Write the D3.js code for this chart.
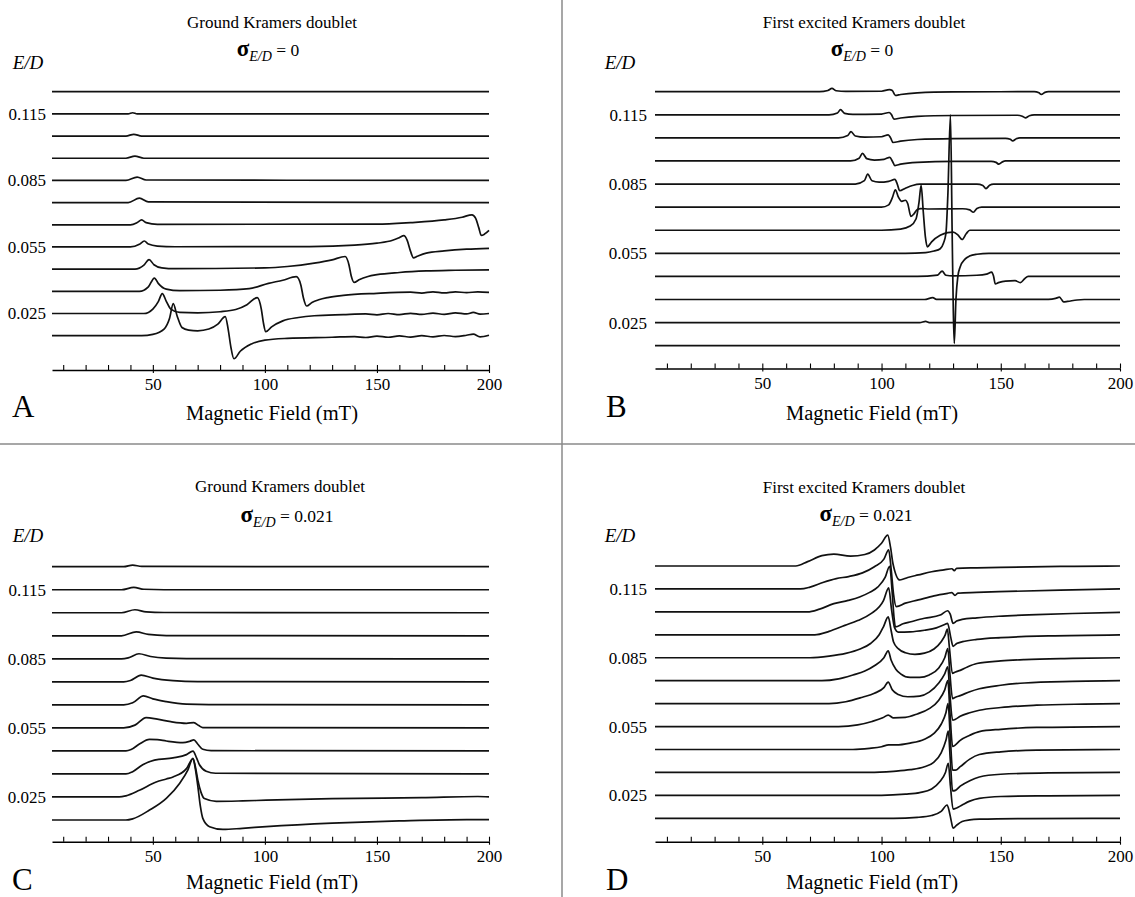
<!DOCTYPE html>
<html>
<head>
<meta charset="utf-8">
<script src="https://d3js.org/d3.v7.min.js"></script>
<style>
  body { margin: 0; background: #fff; }
  svg text { font-family: "Liberation Serif", "DejaVu Serif", serif; fill: #000; }
</style>
</head>
<body>
<script>

// E/D value of each trace, top to bottom
var edRows = [0.125, 0.115, 0.105, 0.095, 0.085, 0.075, 0.065, 0.055, 0.045, 0.035, 0.025, 0.015];
var edLabels = [0.115, 0.085, 0.055, 0.025];
var fieldLabels = [50, 100, 150, 200];
var fieldMinor = [10, 20, 30, 40, 50, 60, 70, 80, 90, 100, 110, 120, 130, 140, 150, 160, 170, 180, 190, 200];
var fieldDomain = [5, 200];

// traces: [field (mT), signal in units of 0.01 E/D], one list per E/D row

// A - ground doublet, sigma = 0
var groundSharp = [
  [[5,0],[200,0]],
  [[5,0],[39,0],[41,0.05],[43,0],[200,0]],
  [[5,0],[38,0],[41.5,0.08],[45,0],[200,0]],
  [[5,0],[38,0],[42,0.1],[46,0],[200,0]],
  [[5,0],[38,0],[43,0.15],[47,0.02],[200,0]],
  [[5,0],[39,0],[44,0.2],[48,0.03],[200,0]],
  [[5,0],[40,0],[43,0.1],[45,0.22],[47,0.1],[52,0.02],[150,0.03],[165,0.1],[180,0.22],[188,0.34],[192.4,0.45],[194,0.3],[195.5,-0.15],[196.5,-0.48],[198,-0.42],[200,-0.25]],
  [[5,0],[40,0],[44,0.12],[46.2,0.27],[48,0.13],[52,0.04],[60,0.01],[120,0.02],[140,0.08],[150,0.17],[157,0.3],[160,0.42],[162,0.51],[163.5,0.3],[165,-0.2],[166.3,-0.49],[168,-0.42],[172,-0.28],[180,-0.18],[190,-0.1],[200,-0.06]],
  [[5,0],[42,0],[46,0.18],[48.3,0.43],[50.5,0.2],[54,0.06],[60,0.02],[100,0.06],[110,0.12],[122,0.27],[130,0.42],[135.8,0.57],[137.5,0.2],[138.5,-0.3],[139.8,-0.6],[142,-0.48],[146,-0.33],[150,-0.25],[160,-0.15],[172,-0.08],[185,-0.05],[200,-0.03]],
  [[5,0],[44,0],[48,0.2],[50.7,0.6],[52.5,0.35],[56,0.1],[62,0.03],[80,0.05],[93,0.12],[101.6,0.36],[108,0.5],[114,0.66],[116,0.3],[117.2,-0.3],[118.6,-0.66],[121,-0.5],[124,-0.38],[128,-0.28],[135,-0.18],[150,-0.09],[165,-0.04],[170,-0.08],[175,-0.02],[180,-0.07],[185,-0.02],[190,-0.06],[195,-0.02],[200,-0.05]],
  [[5,0],[46,0],[50,0.2],[52.5,0.55],[54.2,0.9],[56,0.55],[58,0.2],[62,0.05],[70,0.03],[80,0.08],[87,0.18],[92,0.4],[96.6,0.72],[98.4,0.2],[99.3,-0.4],[100.4,-0.82],[103,-0.6],[108,-0.33],[115,-0.18],[122,-0.1],[135,-0.05],[145,-0.02],[150,-0.06],[155,0],[160,-0.05],[165,0.01],[170,-0.04],[175,0.02],[180,-0.04],[185,0.03],[190,-0.02],[193,0.05],[196,-0.03],[200,0]],
  [[5,0],[45,0],[50,0.06],[55,0.3],[57.5,0.8],[59.1,1.45],[60.8,0.9],[63,0.37],[66,0.25],[70,0.22],[75,0.3],[79,0.52],[82.3,0.86],[83.6,0.3],[84.8,-0.5],[86.2,-1.04],[89,-0.7],[94,-0.37],[100,-0.2],[110,-0.12],[130,-0.07],[140,-0.04],[145,-0.08],[150,-0.02],[155,-0.07],[160,-0.01],[165,-0.06],[170,0],[175,-0.05],[180,0.01],[185,-0.04],[190,0.02],[193,0.07],[196,-0.05],[200,0.02]]
];

// B - first excited doublet, sigma = 0
var excitedSharp = [
  [[5,0],[74,0],[77.5,0.05],[79.2,0.14],[81,0.04],[85,0.01],[100,0.02],[103.3,0.09],[104.5,0.05],[105.8,-0.16],[108,-0.12],[115,-0.05],[130,-0.01],[164,0],[166,-0.05],[167,-0.12],[168.5,-0.03],[170,0],[200,0]],
  [[5,0],[78,0],[81.5,0.08],[82.8,0.22],[84.5,0.06],[88,0.02],[100,0.03],[103.2,0.1],[104.2,0],[105.2,-0.19],[108,-0.14],[115,-0.07],[130,-0.03],[157,-0.02],[159,-0.06],[160.3,-0.13],[162,-0.04],[164,0],[200,0]],
  [[5,0],[82,0],[85.8,0.1],[87.2,0.27],[89,0.08],[93,0.03],[100,0.05],[102.8,0.13],[103.8,0],[104.8,-0.2],[108,-0.14],[115,-0.07],[130,-0.03],[152,-0.02],[154,-0.06],[155,-0.13],[156.5,-0.04],[158,0],[200,0]],
  [[5,0],[87,0],[90.6,0.12],[92,0.33],[93.8,0.1],[97,0.04],[101,0.07],[103.5,0.16],[104.5,0],[105.6,-0.2],[108,-0.14],[115,-0.06],[130,-0.02],[146,-0.02],[148,-0.06],[149.2,-0.14],[150.7,-0.04],[152,0],[200,0]],
  [[5,0],[89,0],[92.8,0.15],[94.2,0.43],[96,0.14],[99,0.08],[103,0.12],[105.6,0.2],[106.6,0],[107.6,-0.29],[110,-0.18],[113,-0.06],[116,0],[140,0],[142.5,-0.06],[143.8,-0.2],[145.3,-0.05],[147,0],[200,0]],
  [[5,0],[100,0],[103,0.1],[104.5,0.4],[105.8,0.75],[107,0.45],[108.5,0.25],[110,0.3],[111,0.15],[112.3,-0.4],[113.5,-0.3],[115,-0.1],[116.5,-0.06],[120,-0.08],[134,-0.07],[137,-0.12],[138.5,-0.22],[140,-0.06],[142,0],[200,0]],
  [[5,0],[100,0],[108,0.05],[112,0.18],[114.5,0.5],[115.7,1.2],[116.6,1.94],[117.5,0.8],[118.4,-0.3],[119.2,-0.72],[121,-0.5],[124.6,-0.22],[127.7,-0.1],[130,-0.08],[132,-0.2],[133.8,-0.4],[135.5,-0.15],[137,0],[200,0]],
  [[5,0],[110,0],[118.5,0.03],[122,0.1],[124.6,0.2],[126,0.45],[127,0.86],[127.8,2.5],[128.9,6.0],[129.6,1.0],[130.1,-2.5],[130.5,-3.9],[131.2,-2.0],[132,-1.0],[133,-0.58],[135,-0.25],[136.9,-0.12],[140,-0.04],[145,0],[200,0]],
  [[5,0],[115,0],[123.5,0.06],[125.4,0.23],[127,0.05],[130,0.02],[140,0.05],[144,0.1],[146.2,0.19],[147,0],[147.7,-0.32],[149,-0.27],[152,-0.2],[156,-0.18],[158.2,-0.27],[160,-0.1],[161.5,0],[200,0]],
  [[5,0],[118,0],[121.5,0.08],[123,0.01],[170,0.01],[173,0.05],[174.6,0.1],[175.5,0],[176.3,-0.1],[178,-0.08],[182,-0.02],[185,0],[200,0]],
  [[5,0],[116,0],[118.5,0.05],[120,0],[200,0]],
  [[5,0],[200,0]]
];

// C - ground doublet, sigma = 0.021
var groundBroad = [
  [[5,0],[37,0],[41,0.07],[45,0.01],[200,0]],
  [[5,0],[36,0],[41.5,0.1],[46,0.02],[55,0],[200,0]],
  [[5,0],[36,0],[42,0.13],[47,0.04],[55,0.01],[200,0]],
  [[5,0],[36,0],[42.6,0.17],[48,0.06],[56,0.01],[200,0]],
  [[5,0],[36,0],[39,0.04],[43.8,0.22],[49,0.1],[56,0.03],[65,0.01],[200,0]],
  [[5,0],[37,0],[40,0.06],[44.8,0.29],[50,0.16],[59,0.05],[70,0.01],[200,0]],
  [[5,0],[37,0],[41,0.09],[45.8,0.39],[50,0.26],[56,0.14],[65,0.03],[75,0.01],[200,0]],
  [[5,0],[37,0],[42,0.12],[47,0.45],[52,0.38],[58,0.27],[65,0.2],[68.3,0.23],[70.5,0.1],[72.3,0.01],[200,0]],
  [[5,0],[38,0],[40.3,0.06],[44,0.3],[48.5,0.5],[52,0.49],[56,0.43],[63.4,0.36],[66.5,0.42],[68.3,0.48],[70,0.3],[72.3,0.07],[76,0.01],[200,0]],
  [[5,0],[38,0],[41,0.1],[45.5,0.4],[50.7,0.6],[59,0.7],[65,0.84],[67.9,0.99],[69.5,0.7],[70.8,0.4],[73.8,0.12],[78,0.03],[200,0]],
  [[5,0],[35,0],[38,0.05],[44,0.29],[51.5,0.65],[56,0.78],[59,0.87],[65,1.23],[67.9,1.67],[69,1.3],[70.1,0.72],[71.5,0.2],[73,-0.07],[78.3,-0.19],[90,-0.17],[100.6,-0.14],[130,-0.07],[170,-0.03],[195,0.02],[200,0]],
  [[5,0],[38,0],[41,0.05],[48.5,0.43],[56,0.94],[62,1.6],[65.6,2.17],[67.9,2.68],[69,2.2],[70.1,1.45],[71.2,0.6],[72.3,0.07],[75.3,-0.29],[81.3,-0.41],[90,-0.36],[100.6,-0.29],[130,-0.14],[160,-0.04],[190,0.02],[200,0.02]]
];

// D - first excited doublet, sigma = 0.021
var excitedBroad = [
  [[5,0],[64,0],[69,0.19],[75,0.45],[80,0.52],[87,0.43],[93,0.5],[97,0.7],[100,0.99],[102.6,1.35],[103.8,0.8],[104.8,0.1],[107.7,-0.61],[111,-0.5],[115.4,-0.39],[121,-0.25],[126.2,-0.17],[129.5,-0.12],[130.5,-0.2],[131.5,-0.1],[140,-0.08],[150,-0.06],[175,-0.02],[200,0]],
  [[5,0],[66,0],[70,0.08],[75.4,0.28],[81,0.45],[86.2,0.54],[92,0.7],[97,0.97],[101,1.3],[103,1.7],[104,0.9],[105,-0.2],[106.2,-0.77],[110,-0.62],[115.4,-0.48],[122,-0.3],[127.7,-0.19],[129.5,-0.16],[130.8,-0.28],[132,-0.18],[140,-0.15],[149.2,-0.12],[175,-0.05],[200,0]],
  [[5,0],[69,0],[74,0.12],[80,0.36],[86,0.5],[90.8,0.65],[95,0.85],[98.5,1.09],[101.5,1.5],[103.4,1.99],[104.5,0.8],[105.2,-0.2],[105.8,-0.65],[109,-0.52],[112.3,-0.43],[118,-0.28],[124.6,-0.14],[127.7,0.05],[128.8,-0.1],[130,-0.5],[131.5,-0.4],[133.8,-0.33],[140,-0.26],[149.2,-0.19],[165,-0.12],[180,-0.07],[200,-0.02]],
  [[5,0],[72,0],[78,0.15],[84.6,0.41],[90,0.62],[95.4,0.91],[100.8,1.49],[103,2.05],[104.2,1.1],[105.5,0.3],[107,0.12],[112,0.13],[118,0.2],[123,0.3],[126.5,0.45],[127.7,0.5],[129,-0.1],[130,-0.5],[131.5,-0.38],[134,-0.3],[140,-0.2],[150,-0.12],[170,-0.05],[200,0]],
  [[5,0],[70,0],[78,0.07],[85,0.19],[91,0.38],[95.4,0.62],[99,1.0],[100.8,1.35],[102.8,1.78],[104,1.2],[105,0.7],[107,0.4],[110,0.22],[114,0.15],[118,0.2],[122,0.38],[125,0.7],[126.7,1.0],[127.6,1.25],[128.5,0.4],[129.7,-0.68],[131,-0.62],[133,-0.55],[136,-0.4],[140,-0.25],[150,-0.14],[160,-0.08],[180,-0.03],[200,0]],
  [[5,0],[75,0],[82,0.08],[88,0.25],[93,0.42],[97,0.65],[101,1.0],[102.8,1.3],[104,0.9],[106,0.5],[108,0.3],[112,0.14],[116,0.14],[120,0.25],[124,0.55],[126.5,1.0],[127.8,1.4],[128.6,0.4],[129.8,-0.78],[131,-0.72],[133,-0.65],[137,-0.48],[141,-0.35],[150,-0.2],[160,-0.1],[180,-0.03],[200,0]],
  [[5,0],[78,0],[85,0.08],[92,0.28],[97,0.45],[101,0.7],[102.8,0.94],[104.5,0.6],[107,0.4],[111,0.3],[116,0.33],[120,0.5],[124,0.9],[126.5,1.3],[127.8,1.6],[128.6,0.5],[129.8,-0.72],[131,-0.68],[133,-0.55],[137,-0.4],[141,-0.29],[150,-0.17],[165,-0.07],[185,-0.02],[200,0]],
  [[5,0],[82,0],[90,0.07],[96,0.22],[100.5,0.38],[102.8,0.5],[105,0.38],[110,0.4],[115,0.55],[120,0.78],[124,1.15],[126.5,1.6],[127.8,2.0],[128.7,0.6],[129.8,-0.87],[131,-0.8],[133,-0.6],[137,-0.38],[141,-0.22],[150,-0.12],[165,-0.04],[200,0]],
  [[5,0],[88,0],[95,0.05],[100,0.12],[103,0.2],[106,0.2],[112,0.28],[118,0.45],[122,0.7],[125,1.1],[127,1.6],[127.9,2.0],[128.8,0.6],[129.8,-0.9],[131,-0.9],[133,-0.75],[137,-0.42],[141,-0.22],[150,-0.1],[165,-0.03],[200,0]],
  [[5,0],[95,0],[105,0.05],[112,0.12],[118,0.25],[122,0.45],[125,0.85],[127,1.4],[128,1.8],[128.8,0.6],[129.8,-0.8],[131,-0.78],[133,-0.6],[137,-0.36],[141,-0.2],[150,-0.08],[170,-0.02],[200,0]],
  [[5,0],[100,0],[110,0.05],[116,0.12],[121,0.28],[124.5,0.6],[126.8,1.0],[128,1.4],[128.9,0.4],[130,-0.6],[131.5,-0.55],[133.8,-0.42],[137,-0.25],[141,-0.13],[150,-0.05],[170,-0.02],[200,0]],
  [[5,0],[105,0],[115,0.04],[121,0.12],[125,0.3],[127.5,0.58],[128.4,0.3],[129.2,-0.1],[130,-0.43],[131.5,-0.3],[133.8,-0.14],[137,-0.07],[141,-0.04],[160,-0.01],[200,0]]
];

var W = 1135, H = 897;
var serif = '"Liberation Serif", "DejaVu Serif", serif';

var panels = [
  { letter: "A", title: "Ground Kramers doublet", sigma: "0", traces: groundSharp,
    x0: 52, x1: 489, yTop: 91.7, yBot: 335.7, axisY: 370,
    titleX: 272, titleY: 28, sigmaX: 268, sigmaY: 56, edX: 28, edY: 69, labelX: 46,
    letterX: 12, letterY: 417, xlabX: 272, xlabY: 420 },
  { letter: "B", title: "First excited Kramers doublet", sigma: "0", traces: excitedSharp,
    x0: 655, x1: 1120, yTop: 91.7, yBot: 345.7, axisY: 368.5,
    titleX: 864, titleY: 28, sigmaX: 862, sigmaY: 56, edX: 620, edY: 69, labelX: 647,
    letterX: 606, letterY: 417, xlabX: 872, xlabY: 420 },
  { letter: "C", title: "Ground Kramers doublet", sigma: "0.021", traces: groundBroad,
    x0: 52, x1: 489, yTop: 566.7, yBot: 820, axisY: 841.7,
    titleX: 280, titleY: 492, sigmaX: 287, sigmaY: 522, edX: 28, edY: 542, labelX: 46,
    letterX: 12, letterY: 890, xlabX: 272, xlabY: 889 },
  { letter: "D", title: "First excited Kramers doublet", sigma: "0.021", traces: excitedBroad,
    x0: 655, x1: 1120, yTop: 566, yBot: 818.3, axisY: 841.7,
    titleX: 864, titleY: 493, sigmaX: 866, sigmaY: 521, edX: 620, edY: 542, labelX: 647,
    letterX: 606, letterY: 890, xlabX: 872, xlabY: 889 }
];

var svg = d3.select("body").append("svg")
  .attr("width", W).attr("height", H)
  .attr("font-family", serif);

svg.append("rect").attr("width", W).attr("height", H).attr("fill", "#fff");

// panel dividers
svg.append("line").attr("x1", 0).attr("x2", W).attr("y1", 444).attr("y2", 444)
  .attr("stroke", "#8a8a8a").attr("stroke-width", 1.5);
svg.append("line").attr("x1", 562).attr("x2", 562).attr("y1", 0).attr("y2", H)
  .attr("stroke", "#8a8a8a").attr("stroke-width", 1.5);

panels.forEach(function(p) {
  var g = svg.append("g");

  var x = d3.scaleLinear().domain(fieldDomain).range([p.x0, p.x1]);
  var y = d3.scaleLinear().domain([edRows[edRows.length - 1], edRows[0]]).range([p.yBot, p.yTop]);

  // minor ticks point up
  g.append("g")
    .attr("transform", "translate(0," + p.axisY + ")")
    .call(d3.axisBottom(x).tickValues(fieldMinor).tickSizeInner(-5).tickSizeOuter(0).tickFormat(""))
    .call(function(a) {
      a.select(".domain").attr("stroke", "#000").attr("stroke-width", 1.4);
      a.selectAll(".tick line").attr("stroke", "#000").attr("stroke-width", 1.1);
    });

  // labelled ticks
  g.append("g")
    .attr("transform", "translate(0," + p.axisY + ")")
    .call(d3.axisBottom(x).tickValues(fieldLabels).tickSizeInner(3).tickSizeOuter(0).tickPadding(5))
    .call(function(a) {
      a.attr("font-family", serif);
      a.select(".domain").remove();
      a.selectAll(".tick line").attr("stroke", "#000").attr("stroke-width", 1.1);
      a.selectAll(".tick text").attr("font-size", 17);
    });

  // E/D row labels
  g.append("g")
    .attr("transform", "translate(" + p.x0 + ",0)")
    .call(d3.axisLeft(y).tickValues(edLabels).tickSize(0).tickPadding(p.x0 - p.labelX).tickFormat(d3.format(".3f")))
    .call(function(a) {
      a.attr("font-family", serif);
      a.select(".domain").remove();
      a.selectAll(".tick text").attr("font-size", 17);
    });

  var line = d3.line()
    .x(function(d) { return x(d[0]); })
    .curve(d3.curveMonotoneX);

  g.selectAll("path.trace")
    .data(p.traces)
    .enter().append("path")
    .attr("class", "trace")
    .attr("fill", "none")
    .attr("stroke", "#111")
    .attr("stroke-width", 1.7)
    .attr("stroke-linejoin", "round")
    .attr("d", function(pts, i) {
      var ed = edRows[i];
      return line.y(function(d) { return y(ed + d[1] * 0.01); })(pts);
    });

  // titles
  g.append("text").attr("x", p.titleX).attr("y", p.titleY)
    .attr("text-anchor", "middle").attr("font-size", 17)
    .text(p.title);

  var s = g.append("text").attr("x", p.sigmaX).attr("y", p.sigmaY)
    .attr("text-anchor", "middle");
  s.append("tspan").attr("font-size", 23).attr("font-weight", "bold").text("σ");
  s.append("tspan").attr("font-size", 14).attr("font-style", "italic").attr("dy", 5).text("E/D");
  s.append("tspan").attr("font-size", 17.5).attr("dy", -5).text(" = " + p.sigma);

  g.append("text").attr("x", p.edX).attr("y", p.edY)
    .attr("text-anchor", "middle").attr("font-size", 19).attr("font-style", "italic")
    .text("E/D");

  g.append("text").attr("x", p.letterX).attr("y", p.letterY)
    .attr("font-size", 31).text(p.letter);

  g.append("text").attr("x", p.xlabX).attr("y", p.xlabY)
    .attr("text-anchor", "middle").attr("font-size", 20.5)
    .text("Magnetic Field (mT)");
});

</script>
</body>
</html>
